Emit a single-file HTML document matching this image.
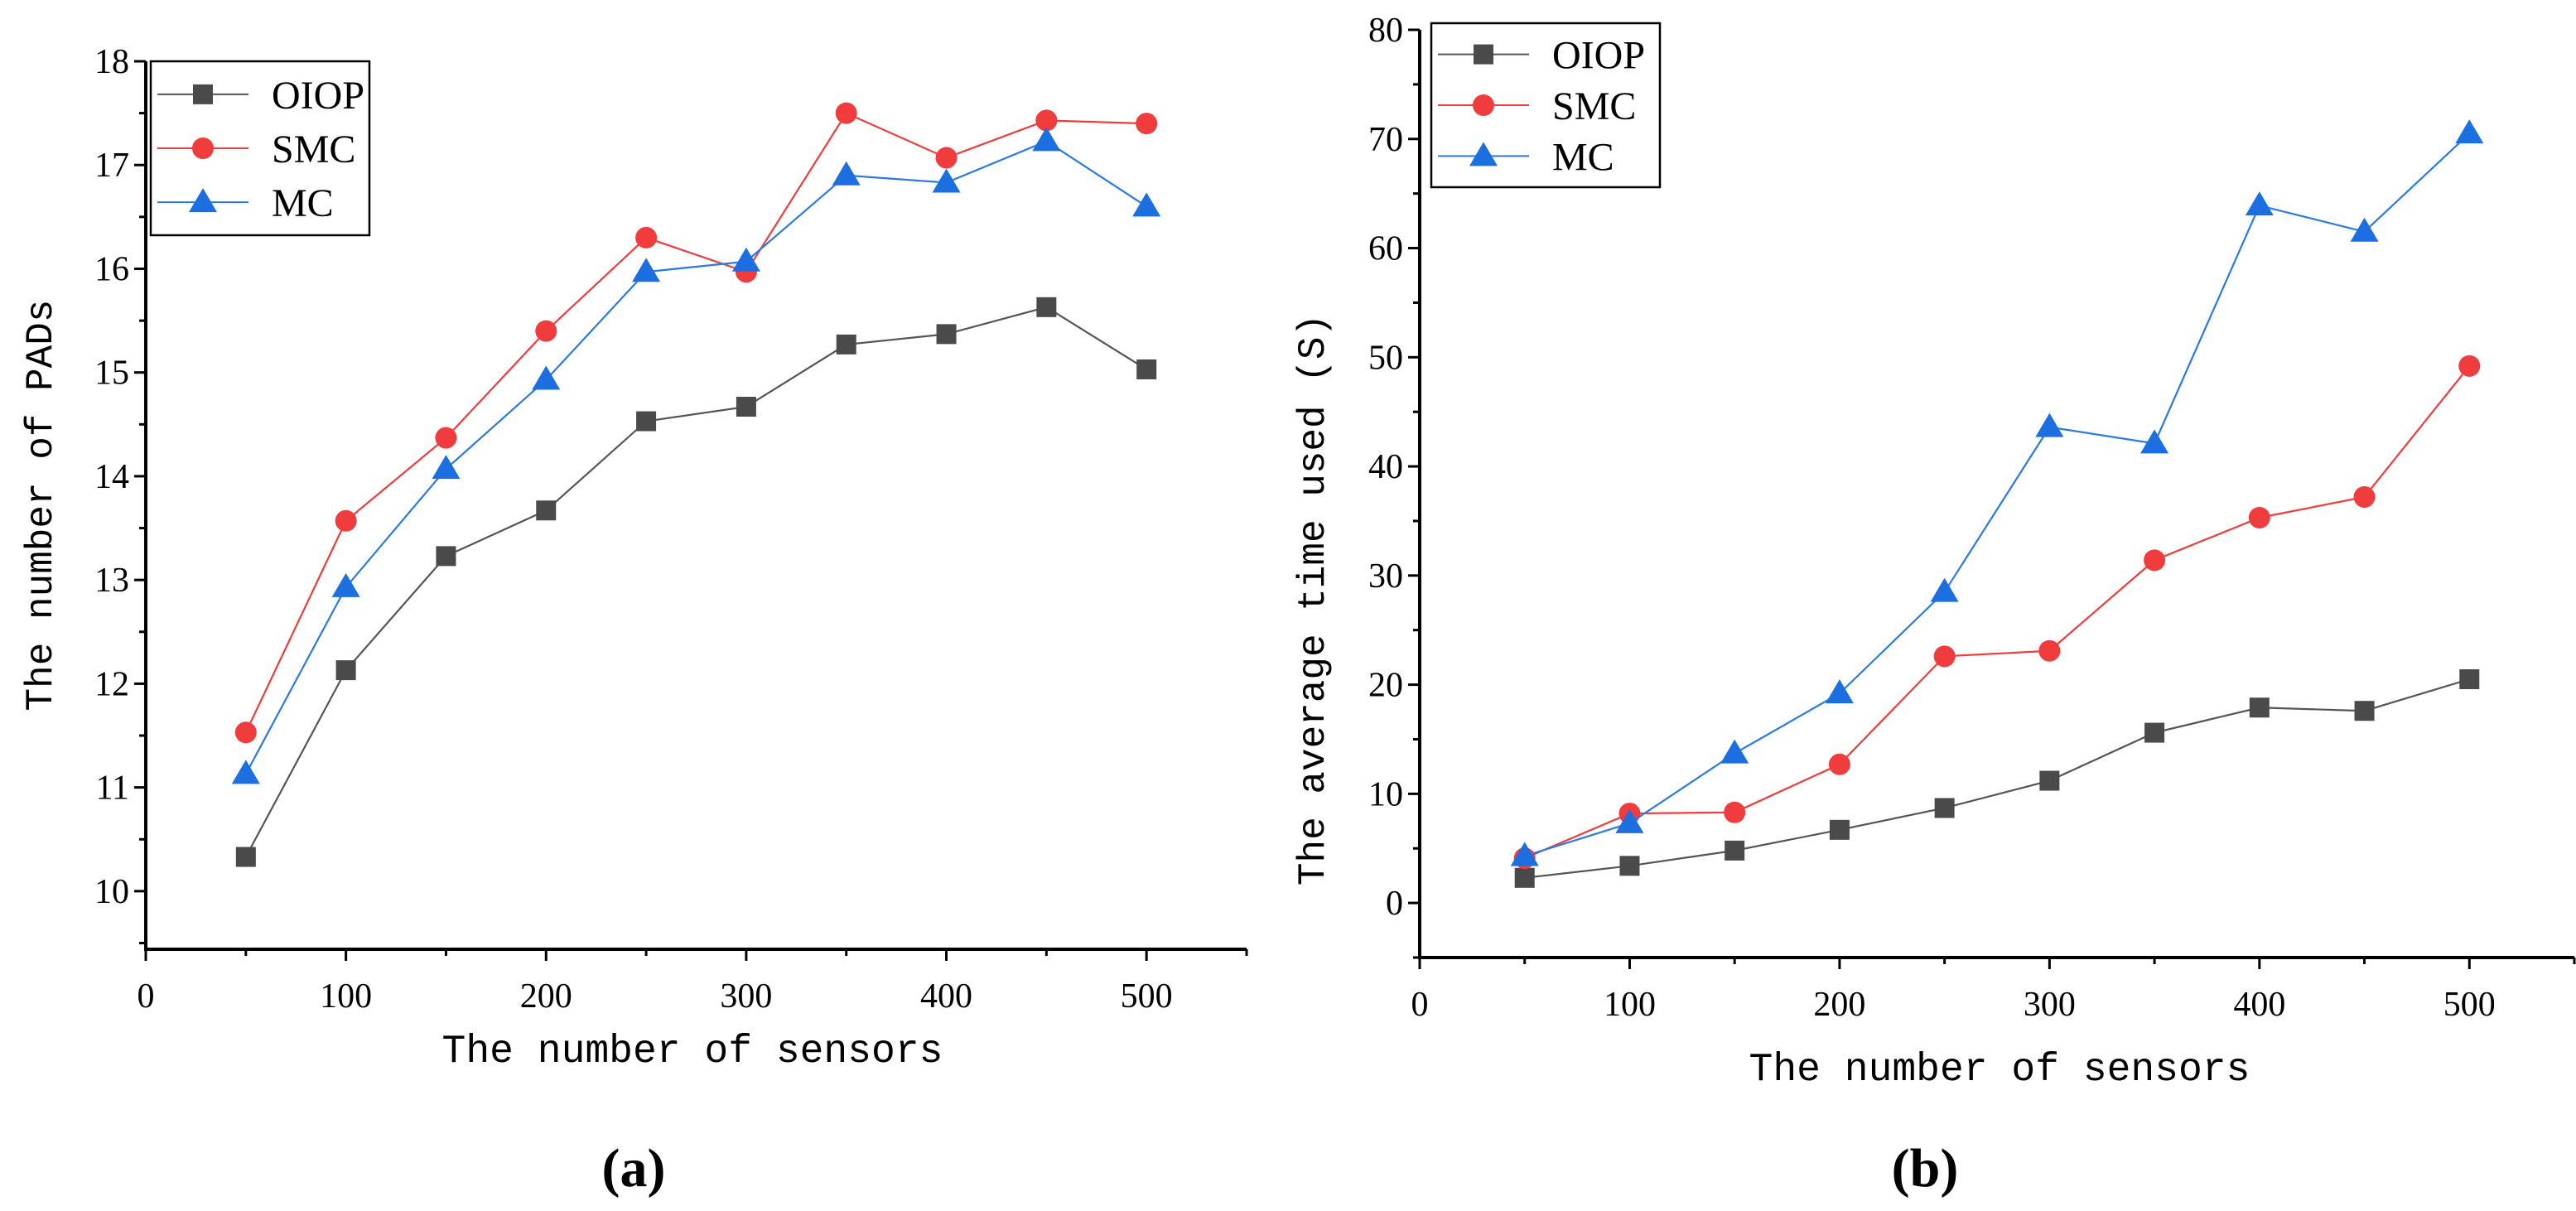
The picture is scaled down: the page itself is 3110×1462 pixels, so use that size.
<!DOCTYPE html>
<html><head><meta charset="utf-8"><style>
html,body{margin:0;padding:0;background:#fff;}
svg{display:block;}
text{font-family:"Liberation Serif",serif;fill:#000;}
.mono{font-family:"Liberation Mono","Noto Sans CJK SC",monospace;}
</style></head><body>
<svg id="c" width="3110" height="1462" viewBox="0 0 3110 1462"></svg>
<script>
const xCats=[50,100,150,200,250,300,350,400,450,500];
const aOIOP=[10.33,12.13,13.23,13.67,14.53,14.67,15.27,15.37,15.63,15.03];
const aSMC=[11.53,13.57,14.37,15.40,16.30,15.97,17.50,17.07,17.43,17.40];
const aMC=[11.13,12.93,14.07,14.93,15.97,16.07,16.90,16.83,17.23,16.60];
const bOIOP=[2.3,3.4,4.8,6.7,8.7,11.2,15.6,17.9,17.6,20.5];
const bSMC=[4.1,8.2,8.3,12.7,22.6,23.1,31.4,35.3,37.2,49.2];
const bMC=[4.3,7.3,13.7,19.2,28.5,43.6,42.1,63.9,61.5,70.5];
const xTicks=[0,100,200,300,400,500];
const aYTicks=[10,11,12,13,14,15,16,17,18];
const bYTicks=[0,10,20,30,40,50,60,70,80];
const NS='http://www.w3.org/2000/svg';
const svg=document.getElementById('c');
function mk(tag,attrs,parent,txt){const e=document.createElementNS(NS,tag);for(const k in attrs)e.setAttribute(k,attrs[k]);if(txt!==undefined)e.textContent=txt;(parent||svg).appendChild(e);return e;}
const colors={OIOP:'#4a4a4a',SMC:'#f03c3c',MC:'#1c6fe0'};
const lineCol={OIOP:'#555',SMC:'#f03c3c',MC:'#2a7ae2'};
function marker(g,type,x,y){let m;
 if(type==='OIOP')m=mk('rect',{x:x-12,y:y-12,width:24,height:24,fill:colors.OIOP},g);
 else if(type==='SMC')m=mk('circle',{cx:x,cy:y,r:13,fill:colors.SMC},g);
 else m=mk('polygon',{points:`${x},${y-17} ${x-17},${y+12} ${x+17},${y+12}`,fill:colors.MC},g);
 
 }
function chart(o){
 const g=mk('g',{},svg);
 
 
 const X=v=>o.x0+(v-0)*(o.x1-o.x0)/550;
 const Y=v=>o.yb+(v-o.ymin)*(o.yt-o.yb)/(o.ymax-o.ymin);
 const ax=mk('path',{d:`M${o.x0},${o.yt} V${o.yb} H${o.x1}`,stroke:'#000','stroke-width':4,fill:'none'},g);
 
 for(let v=0;v<=550;v+=50){const major=v%100===0;mk('line',{x1:X(v),x2:X(v),y1:o.yb,y2:o.yb+(major?14:8),stroke:'#000','stroke-width':3},g);}
 xTicks.forEach(v=>{const t=mk('text',{x:X(v),y:o.yb+70,'font-size':42,'text-anchor':'middle'},g,String(v));});
 for(let v=o.ymin0;v<=o.ymax;v+=o.minor){const major=Math.abs((v/o.major)-Math.round(v/o.major))<1e-6;mk('line',{x1:o.x0,x2:o.x0-(major?14:8),y1:Y(v),y2:Y(v),stroke:'#000','stroke-width':3},g);}
 o.yTicks.forEach(v=>{const t=mk('text',{x:o.x0-20,y:Y(v)+14,'font-size':42,'text-anchor':'end'},g,String(v));});
 const xt=mk('text',{x:o.xtx,y:o.xty,'font-size':48,'text-anchor':'middle',class:'mono'},g,'The number of sensors');
 
 const yt=mk('text',{x:0,y:0,'font-size':46,'text-anchor':'middle',class:'mono',transform:`translate(${o.ytx},${o.yty}) rotate(-90)`},g,o.ytitle);
 
 ['OIOP','SMC','MC'].forEach(k=>{const vals=o.series[k];
  const pts=vals.map((v,i)=>`${X(xCats[i])},${Y(v)}`).join(' ');
  const pl=mk('polyline',{points:pts,fill:'none',stroke:lineCol[k],'stroke-width':2.2},g);
  
  vals.forEach((v,i)=>marker(g,k,X(xCats[i]),Y(v)));});
 const lg=mk('g',{},g);
 
 mk('rect',{x:o.lx,y:o.ly,width:o.lw,height:o.lh,fill:'#fff',stroke:'#000','stroke-width':2.5},lg);
 ['OIOP','SMC','MC'].forEach((k,i)=>{const cy=o.ly+o.lh*(0.19+0.31*i);
  const e=mk('g',{},lg);
  mk('line',{x1:o.lx+8,x2:o.lx+118,y1:cy,y2:cy,stroke:lineCol[k],'stroke-width':2},e);
  marker(e,k,o.lx+63,cy);
  mk('text',{x:o.lx+146,y:cy+17,'font-size':48},e,k);});
 const cap=mk('text',{x:o.capx,y:1432,'font-size':66,'font-weight':'bold','text-anchor':'middle'},g,o.cap);
 
}
chart({name:'chart-a',x0:176,x1:1505,yt:74,yb:1146,ymin:9.44,ymax:18,ymin0:9.5,minor:0.5,major:1,yTicks:aYTicks,
 series:{OIOP:aOIOP,SMC:aSMC,MC:aMC},ytitle:'The number of PADs',ytx:62,yty:610,xtx:836,xty:1282,
 lx:182,ly:74,lw:264,lh:210,cap:'(a)',capx:765});
chart({name:'chart-b',x0:1714,x1:3108,yt:36,yb:1156,ymin:-5,ymax:80,ymin0:-5,minor:5,major:10,yTicks:bYTicks,
 series:{OIOP:bOIOP,SMC:bSMC,MC:bMC},ytitle:'The average time used (S)',ytx:1598,yty:724,xtx:2414,xty:1304,
 lx:1728,ly:28,lw:276,lh:198,cap:'(b)',capx:2324});
</script>
</body></html>
